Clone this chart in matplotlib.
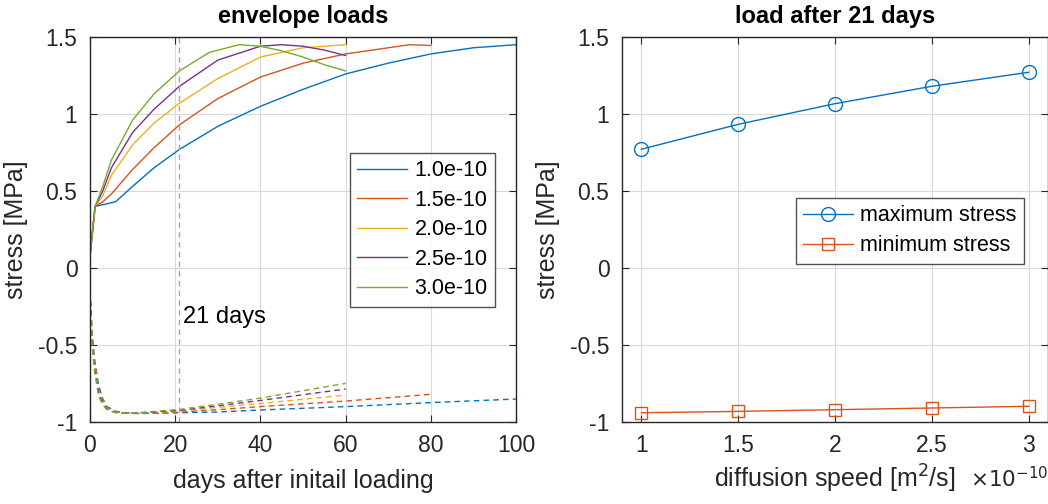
import matplotlib
matplotlib.use("Agg")
import matplotlib.pyplot as plt
import numpy as np

plt.rcParams['font.family'] = ['Liberation Sans', 'DejaVu Sans']

# ---------------- data ----------------
labels = ["1.0e-10", "1.5e-10", "2.0e-10", "2.5e-10", "3.0e-10"]
colors = ["#0072BD", "#D95319", "#EDB120", "#7E2F8E", "#77AC30"]

# maximum stress envelopes (solid)
t_max_blue = [0, 1.2, 6, 10, 15, 21, 30, 40, 50, 60, 70, 80, 90, 100]
s_max_blue = [0.08, 0.40, 0.43, 0.53, 0.65, 0.77, 0.92, 1.05, 1.16, 1.26, 1.33, 1.39, 1.43, 1.45]
t_max_orange = [0, 1.2, 3, 5, 10, 15, 21, 30, 40, 50, 60, 70, 75, 80]
s_max_orange = [0.08, 0.40, 0.43, 0.48, 0.64, 0.78, 0.93, 1.10, 1.24, 1.33, 1.39, 1.43, 1.45, 1.445]
t_max_yellow = [0, 1.2, 3, 5, 10, 15, 21, 30, 40, 50, 60]
s_max_yellow = [0.08, 0.40, 0.47, 0.60, 0.80, 0.94, 1.07, 1.23, 1.37, 1.43, 1.45]
t_max_purple = [0, 1.2, 3, 5, 10, 15, 21, 30, 40, 45, 50, 55, 60]
s_max_purple = [0.08, 0.40, 0.50, 0.65, 0.88, 1.03, 1.18, 1.35, 1.44, 1.45, 1.44, 1.415, 1.38]
t_max_green = [0, 1.2, 3, 5, 10, 15, 21, 28, 35, 40, 45, 50, 55, 60]
s_max_green = [0.08, 0.40, 0.53, 0.70, 0.96, 1.13, 1.28, 1.40, 1.45, 1.44, 1.41, 1.37, 1.32, 1.28]

# minimum stress envelopes (dashed)
t_min_blue = [0, 0.5, 1, 2, 3, 4, 6, 8, 12, 21, 30, 40, 60, 80, 100]
s_min_blue = [-0.15, -0.42, -0.58, -0.76, -0.85, -0.90, -0.93, -0.94, -0.945, -0.94, -0.935, -0.922, -0.90, -0.874, -0.851]
t_min_orange = [0, 0.5, 1, 2, 3, 4, 6, 8, 12, 21, 30, 40, 60, 80]
s_min_orange = [-0.15, -0.44, -0.60, -0.78, -0.86, -0.905, -0.935, -0.943, -0.945, -0.935, -0.92, -0.90, -0.864, -0.82]
t_min_yellow = [0, 0.5, 1, 2, 3, 4, 6, 8, 12, 21, 30, 40, 60]
s_min_yellow = [-0.15, -0.46, -0.62, -0.80, -0.87, -0.91, -0.935, -0.943, -0.942, -0.93, -0.905, -0.88, -0.825]
t_min_purple = [0, 0.5, 1, 2, 3, 4, 6, 8, 12, 21, 30, 40, 60]
s_min_purple = [-0.15, -0.48, -0.64, -0.81, -0.88, -0.915, -0.938, -0.943, -0.94, -0.925, -0.895, -0.86, -0.786]
t_min_green = [0, 0.5, 1, 2, 3, 4, 6, 8, 12, 21, 30, 40, 60]
s_min_green = [-0.15, -0.50, -0.66, -0.83, -0.89, -0.92, -0.94, -0.943, -0.938, -0.918, -0.885, -0.845, -0.749]

# load after 21 days
diff_speed = [1.0e-10, 1.5e-10, 2.0e-10, 2.5e-10, 3.0e-10]
max_stress_21 = [0.771, 0.933, 1.067, 1.180, 1.271]
min_stress_21 = [-0.940, -0.931, -0.920, -0.909, -0.898]

marker_day = 21

# ---------------- plotting ----------------
axcol = "#262626"
TICK = 16.5
LAB = 18
LEG = 15.5
TITLE = 17
fig = plt.figure(figsize=(10.48, 5.04), dpi=100)
ax1 = fig.add_axes([90/1048, 82/504, 426/1048, 385/504])
ax2 = fig.add_axes([622/1048, 82/504, 426/1048, 385/504])

max_t = [t_max_blue, t_max_orange, t_max_yellow, t_max_purple, t_max_green]
max_s = [s_max_blue, s_max_orange, s_max_yellow, s_max_purple, s_max_green]
min_t = [t_min_blue, t_min_orange, t_min_yellow, t_min_purple, t_min_green]
min_s = [s_min_blue, s_min_orange, s_min_yellow, s_min_purple, s_min_green]

for tt, ss, c, lab in zip(max_t, max_s, colors, labels):
    ax1.plot(tt, ss, color=c, lw=1.0, label=lab)
for tt, ss, c in zip(min_t, min_s, colors):
    ax1.plot(tt, ss, color=c, lw=1.0, ls=(0, (4, 3)))

ax1.axvline(marker_day, color="#a6a6a6", lw=1.0, ls=(0, (4, 3)))
ax1.text(marker_day + 0.8, -0.32, "21 days", fontsize=17, va="center", ha="left", color="black")

ax1.set_xlim(0, 100)
ax1.set_ylim(-1, 1.5)
ax1.set_xticks([0, 20, 40, 60, 80, 100])
ax1.set_yticks([-1, -0.5, 0, 0.5, 1, 1.5])
ax1.set_yticklabels(["-1", "-0.5", "0", "0.5", "1", "1.5"])
ax1.set_title("envelope loads", fontsize=TITLE, fontweight="bold", pad=10)
ax1.set_xlabel("days after initail loading", fontsize=LAB, color=axcol, labelpad=8)
ax1.set_ylabel("stress [MPa]", fontsize=LAB, color=axcol, labelpad=7)
leg1 = ax1.legend(loc="upper left", bbox_to_anchor=(0.61, 0.70), fontsize=LEG,
                  handlelength=2.3, handletextpad=0.35, frameon=True, fancybox=False,
                  edgecolor=axcol, borderpad=0.35, labelspacing=0.4, borderaxespad=0)
leg1.get_frame().set_linewidth(1.0)

ax2.plot(diff_speed, max_stress_21, color=colors[0], lw=1.0, marker="o",
         markersize=10, markerfacecolor="none", markeredgewidth=1.0, label="maximum stress")
ax2.plot(diff_speed, min_stress_21, color=colors[1], lw=1.0, marker="s",
         markersize=8, markerfacecolor="none", markeredgewidth=1.0, label="minimum stress")
ax2.set_xlim(0.9e-10, 3.1e-10)
ax2.set_ylim(-1, 1.5)
ax2.set_xticks([1e-10, 1.5e-10, 2e-10, 2.5e-10, 3e-10])
ax2.set_xticklabels(["1", "1.5", "2", "2.5", "3"])
ax2.set_yticks([-1, -0.5, 0, 0.5, 1, 1.5])
ax2.set_yticklabels(["-1", "-0.5", "0", "0.5", "1", "1.5"])
ax2.set_title("load after 21 days", fontsize=TITLE, fontweight="bold", pad=10)
ax2.set_xlabel("diffusion speed [m$^2$/s]", fontsize=LAB, color=axcol, labelpad=4)
ax2.set_ylabel("stress [MPa]", fontsize=LAB, color=axcol, labelpad=7)
ax2.text(1.0, -0.118, r"$\times10^{-10}$", transform=ax2.transAxes, fontsize=15.5,
         ha="right", va="top", color=axcol, math_fontfamily="dejavusans")
leg2 = ax2.legend(loc="upper right", bbox_to_anchor=(0.944, 0.582), fontsize=LEG,
                  handlelength=2.3, handletextpad=0.35, frameon=True, fancybox=False,
                  edgecolor=axcol, borderpad=0.35, labelspacing=0.4, borderaxespad=0)
leg2.get_frame().set_linewidth(1.0)

for ax in (ax1, ax2):
    ax.grid(True, color="#d9d9d9", lw=0.8)
    ax.set_axisbelow(True)
    ax.tick_params(direction="in", top=True, right=True, labelsize=TICK,
                   colors=axcol, length=5, width=0.8, pad=9)
    for sp in ax.spines.values():
        sp.set_color(axcol)
        sp.set_linewidth(1.0)

fig.savefig("out.png", dpi=100)
